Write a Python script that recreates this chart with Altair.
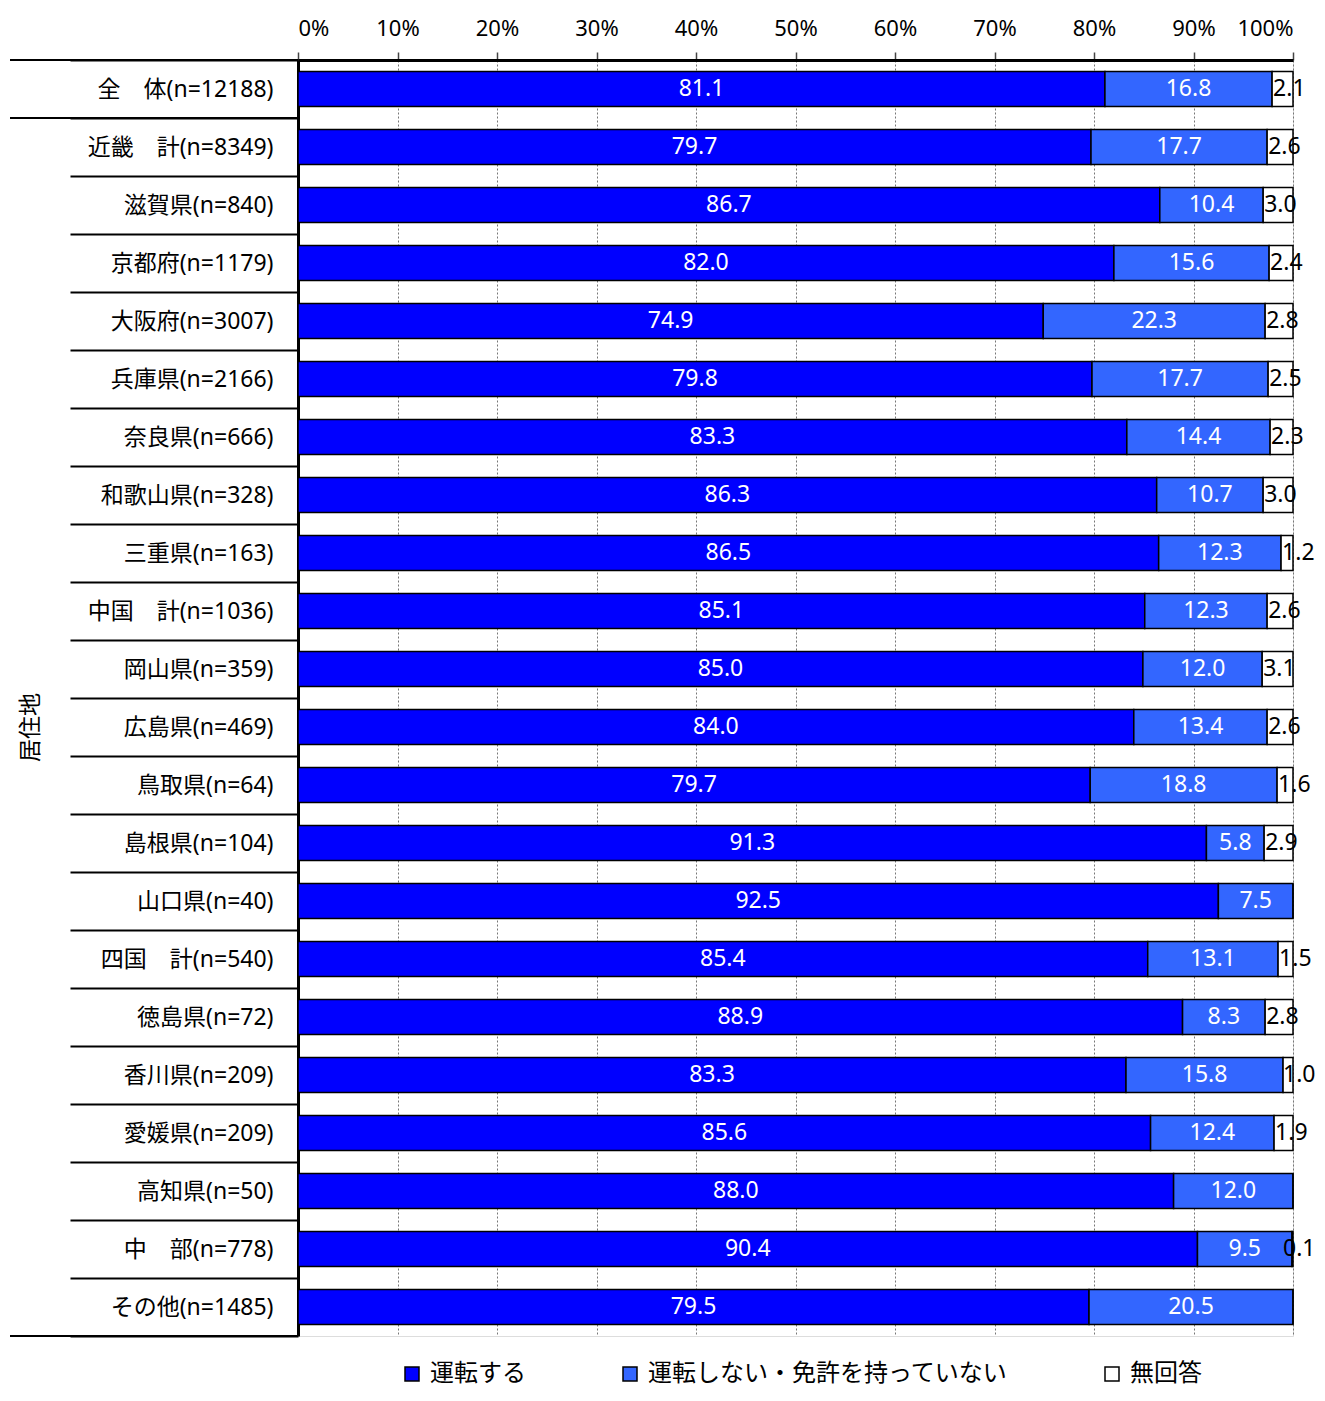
import altair as alt
import pandas as pd

regions = [
    "全　体(n=12188)", "近畿　計(n=8349)", "滋賀県(n=840)", "京都府(n=1179)",
    "大阪府(n=3007)", "兵庫県(n=2166)", "奈良県(n=666)", "和歌山県(n=328)",
    "三重県(n=163)", "中国　計(n=1036)", "岡山県(n=359)", "広島県(n=469)",
    "鳥取県(n=64)", "島根県(n=104)", "山口県(n=40)", "四国　計(n=540)",
    "徳島県(n=72)", "香川県(n=209)", "愛媛県(n=209)", "高知県(n=50)",
    "中　部(n=778)", "その他(n=1485)",
]
series = ["運転する", "運転しない・免許を持っていない", "無回答"]
drive = [81.1, 79.7, 86.7, 82.0, 74.9, 79.8, 83.3, 86.3, 86.5, 85.1, 85.0,
         84.0, 79.7, 91.3, 92.5, 85.4, 88.9, 83.3, 85.6, 88.0, 90.4, 79.5]
nodrive = [16.8, 17.7, 10.4, 15.6, 22.3, 17.7, 14.4, 10.7, 12.3, 12.3, 12.0,
           13.4, 18.8, 5.8, 7.5, 13.1, 8.3, 15.8, 12.4, 12.0, 9.5, 20.5]
noanswer = [2.1, 2.6, 3.0, 2.4, 2.8, 2.5, 2.3, 3.0, 1.2, 2.6, 3.1,
            2.6, 1.6, 2.9, 0.0, 1.5, 2.8, 1.0, 1.9, 0.0, 0.1, 0.0]
colors = ["#0000FF", "#3366FF", "#FFFFFF"]

FONT = "'Noto Sans', 'Noto Sans CJK JP', sans-serif"

rows = []
for i, r in enumerate(regions):
    vals = [drive[i], nodrive[i], noanswer[i]]
    tot = sum(vals)
    cum = 0.0
    for s, v in zip(series, vals):
        start = cum / tot * 100
        cum += v
        end = cum / tot * 100
        rows.append({"region": r, "series": s, "value": v, "start": start,
                     "end": end, "mid": (start + end) / 2,
                     "label": f"{v:.1f}"})
df = pd.DataFrame(rows)

yscale = alt.Scale(paddingInner=0, paddingOuter=0)
xscale = alt.Scale(domain=[0, 100], nice=False, zero=True)

y_main = alt.Y(
    "region:N", sort=regions, scale=yscale, title="居住地",
    axis=alt.Axis(
        tickBand="extent", tickSize=228, tickColor="black", tickWidth=2,
        labelPadding=-203, labelFontSize=23, labelFont=FONT, labelColor="black",
        domainColor="black", domainWidth=3, labelLimit=400,
        titleFont=FONT, titleFontSize=23, titleFontWeight="normal",
        titleColor="black", titleX=-268, titleY=667, titleAngle=270,
        titleAlign="center", titleBaseline="middle",
    ),
)
x_main = alt.X(
    "start:Q", scale=xscale, title=None,
    axis=alt.Axis(
        orient="top", values=list(range(0, 101, 10)),
        labelExpr="datum.value + '%'", labelFontSize=22, labelFont=FONT,
        labelColor="black", labelPadding=12,
        tickSize=8, tickColor="#444", tickWidth=1.5,
        domainColor="black", domainWidth=3,
        grid=True, gridColor="#777", gridDash=[2, 2], gridWidth=1,
    ),
)

bars = alt.Chart(df).mark_bar(size=35, stroke="black", strokeWidth=1.5).encode(
    y=y_main,
    x=x_main,
    x2="end:Q",
    color=alt.Color(
        "series:N",
        scale=alt.Scale(domain=series, range=colors),
        sort=series,
        legend=alt.Legend(
            title=None, orient="none", direction="horizontal",
            legendX=102, legendY=1302, padding=0,
            symbolType="square", symbolSize=196, symbolStrokeColor="black",
            symbolStrokeWidth=1.5, symbolOpacity=1,
            labelFont=FONT, labelFontSize=24, labelColor="black",
            labelLimit=600, labelOffset=6, columnPadding=92,
        ),
    ),
    order=alt.Order("start:Q"),
)

inner_labels = alt.Chart(df).transform_filter(
    alt.datum.series != "無回答"
).mark_text(color="white", fontSize=23, font=FONT, align="center",
            baseline="middle").encode(
    y=alt.Y("region:N", sort=regions),
    x=alt.X("mid:Q"),
    text="label:N",
)

na_labels = alt.Chart(df).transform_filter(
    (alt.datum.series == "無回答") & (alt.datum.value > 0)
).transform_calculate(
    lx="min(datum.start, 98.9)"
).mark_text(color="black", fontSize=23, font=FONT, align="left",
            baseline="middle", dx=1).encode(
    y=alt.Y("region:N", sort=regions),
    x=alt.X("lx:Q"),
    text="label:N",
)

long_top = alt.Chart(pd.DataFrame({"region": regions[:2]})).mark_rule(
    color="black", strokeWidth=2
).encode(
    y=alt.Y("region:N", sort=regions, bandPosition=0),
    x=alt.value(-288), x2=alt.value(0),
)
long_bottom = alt.Chart(pd.DataFrame({"region": regions[-1:]})).mark_rule(
    color="black", strokeWidth=2
).encode(
    y=alt.Y("region:N", sort=regions, bandPosition=1),
    x=alt.value(-288), x2=alt.value(0),
)

chart = alt.layer(bars, inner_labels, na_labels, long_top, long_bottom).properties(
    width=995, height=1276,
    autosize=alt.AutoSizeParams(type="none"),
    padding={"left": 290, "top": 52, "right": 24, "bottom": 56},
).configure_view(
    stroke="black", strokeWidth=2
).configure(background="white")

chart.save("out.html", embed_options={"renderer": "svg", "actions": False})
